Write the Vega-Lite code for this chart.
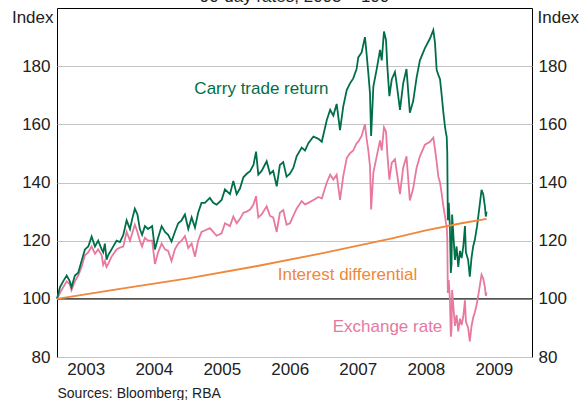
{
  "$schema": "https://vega.github.io/schema/vega-lite/v6.json",
  "width": 475,
  "height": 349,
  "autosize": {"type": "none"},
  "padding": {"left": 57, "top": 8, "right": 55, "bottom": 43},
  "title": {"text": "90-day rates; 2003 = 100", "fontSize": 17, "font": "Liberation Sans", "fontWeight": "normal", "color": "#222", "offset": 1, "dy": 12, "baseline": "alphabetic", "anchor": "middle"},
  "config": {
    "view": {"stroke": "#000", "strokeWidth": 1},
    "font": "Liberation Sans",
    "axis": {"labelFont": "Liberation Sans", "titleFont": "Liberation Sans"},
    "text": {"font": "Liberation Sans"}
  },
  "datasets": {
    "fx": [
      {"d":"2003-01-28","c":100,"e":100},
      {"d":"2003-02-13","c":104,"e":102},
      {"d":"2003-03-02","c":106,"e":104},
      {"d":"2003-03-21","c":108,"e":106},
      {"d":"2003-04-07","c":106,"e":105},
      {"d":"2003-04-16","c":104,"e":103},
      {"d":"2003-05-04","c":108,"e":106},
      {"d":"2003-05-22","c":109,"e":108},
      {"d":"2003-06-09","c":113,"e":111},
      {"d":"2003-06-27","c":117,"e":115},
      {"d":"2003-07-15","c":118,"e":116},
      {"d":"2003-08-02","c":121.4,"e":118},
      {"d":"2003-08-20","c":118,"e":115.5},
      {"d":"2003-09-06","c":120,"e":117},
      {"d":"2003-09-25","c":117,"e":115},
      {"d":"2003-10-03","c":116,"e":111.7},
      {"d":"2003-10-12","c":119,"e":113},
      {"d":"2003-10-21","c":113.5,"e":111},
      {"d":"2003-10-30","c":115,"e":112},
      {"d":"2003-11-17","c":117,"e":114.5},
      {"d":"2003-12-14","c":120,"e":117},
      {"d":"2004-01-01","c":119.5,"e":117.6},
      {"d":"2004-01-19","c":122,"e":118},
      {"d":"2004-02-06","c":127,"e":123},
      {"d":"2004-02-24","c":124,"e":120},
      {"d":"2004-03-09","c":128,"e":123},
      {"d":"2004-03-21","c":131,"e":125.5},
      {"d":"2004-04-04","c":129,"e":123},
      {"d":"2004-04-17","c":124,"e":120},
      {"d":"2004-04-29","c":122,"e":118},
      {"d":"2004-05-14","c":125,"e":121},
      {"d":"2004-05-31","c":124,"e":120},
      {"d":"2004-06-22","c":125,"e":120},
      {"d":"2004-07-07","c":117,"e":112},
      {"d":"2004-07-24","c":121,"e":116},
      {"d":"2004-08-12","c":125,"e":119},
      {"d":"2004-08-30","c":123,"e":117},
      {"d":"2004-09-16","c":122,"e":116.5},
      {"d":"2004-10-04","c":119.7,"e":113},
      {"d":"2004-10-22","c":123,"e":117},
      {"d":"2004-11-09","c":126,"e":119},
      {"d":"2004-11-27","c":127,"e":120},
      {"d":"2004-12-15","c":129,"e":121.6},
      {"d":"2005-01-02","c":124,"e":117.5},
      {"d":"2005-01-20","c":128,"e":119},
      {"d":"2005-02-07","c":124.5,"e":114.5},
      {"d":"2005-02-24","c":129.6,"e":120},
      {"d":"2005-03-14","c":133,"e":123},
      {"d":"2005-04-01","c":133,"e":123.5},
      {"d":"2005-04-28","c":134.7,"e":124.3},
      {"d":"2005-05-16","c":133,"e":123},
      {"d":"2005-06-03","c":132.4,"e":121.7},
      {"d":"2005-06-30","c":134,"e":122.5},
      {"d":"2005-07-18","c":137.6,"e":126},
      {"d":"2005-08-14","c":136,"e":125},
      {"d":"2005-09-01","c":140.5,"e":128.3},
      {"d":"2005-09-19","c":136,"e":126},
      {"d":"2005-10-07","c":138,"e":127.5},
      {"d":"2005-10-25","c":141.8,"e":129.6},
      {"d":"2005-11-12","c":143,"e":130},
      {"d":"2005-11-30","c":143.9,"e":130.7},
      {"d":"2005-12-18","c":146,"e":132.4},
      {"d":"2006-01-01","c":150.6,"e":135.3},
      {"d":"2006-01-13","c":142.7,"e":128},
      {"d":"2006-01-31","c":144,"e":129},
      {"d":"2006-02-27","c":147.3,"e":131.8},
      {"d":"2006-03-17","c":143,"e":128.5},
      {"d":"2006-04-03","c":144,"e":128},
      {"d":"2006-04-22","c":138.7,"e":123},
      {"d":"2006-05-09","c":146,"e":129.6},
      {"d":"2006-05-27","c":147,"e":130.5},
      {"d":"2006-06-14","c":142,"e":125.5},
      {"d":"2006-07-02","c":143,"e":126},
      {"d":"2006-07-20","c":145,"e":128.5},
      {"d":"2006-08-07","c":149,"e":131},
      {"d":"2006-09-03","c":152,"e":133.6},
      {"d":"2006-09-21","c":151,"e":132.5},
      {"d":"2006-10-09","c":153.5,"e":133},
      {"d":"2006-11-05","c":155.8,"e":134},
      {"d":"2006-12-02","c":155,"e":135},
      {"d":"2006-12-20","c":154,"e":134.5},
      {"d":"2007-01-16","c":161.5,"e":140},
      {"d":"2007-02-03","c":165,"e":142.7},
      {"d":"2007-02-20","c":163,"e":141},
      {"d":"2007-03-10","c":167,"e":142.7},
      {"d":"2007-03-28","c":158,"e":134},
      {"d":"2007-04-14","c":166,"e":142},
      {"d":"2007-05-03","c":171.8,"e":148.4},
      {"d":"2007-05-20","c":174,"e":150},
      {"d":"2007-06-07","c":175.8,"e":151},
      {"d":"2007-06-25","c":179,"e":153.5},
      {"d":"2007-07-04","c":183,"e":154},
      {"d":"2007-07-22","c":184.7,"e":156},
      {"d":"2007-08-09","c":190,"e":160},
      {"d":"2007-08-18","c":184,"e":155},
      {"d":"2007-08-27","c":177.6,"e":151},
      {"d":"2007-09-05","c":170.6,"e":145.5},
      {"d":"2007-09-11","c":156,"e":130.7},
      {"d":"2007-09-23","c":173,"e":143.4},
      {"d":"2007-10-11","c":179,"e":149},
      {"d":"2007-10-29","c":185.6,"e":154.5},
      {"d":"2007-11-07","c":182,"e":151},
      {"d":"2007-11-19","c":191.9,"e":159},
      {"d":"2007-11-30","c":189,"e":157.5},
      {"d":"2007-12-07","c":180,"e":150},
      {"d":"2007-12-18","c":169.7,"e":141},
      {"d":"2007-12-31","c":175.5,"e":146.8},
      {"d":"2008-01-17","c":178,"e":148},
      {"d":"2008-01-26","c":174,"e":144},
      {"d":"2008-02-13","c":165,"e":136},
      {"d":"2008-03-01","c":174,"e":145},
      {"d":"2008-03-19","c":179,"e":149},
      {"d":"2008-04-06","c":164,"e":133.8},
      {"d":"2008-04-24","c":168,"e":138},
      {"d":"2008-05-12","c":176,"e":145},
      {"d":"2008-05-30","c":182,"e":149},
      {"d":"2008-06-26","c":186.2,"e":153},
      {"d":"2008-07-23","c":189.5,"e":154},
      {"d":"2008-08-10","c":192.4,"e":155.4},
      {"d":"2008-08-19","c":188,"e":151.5},
      {"d":"2008-08-28","c":178.7,"e":147},
      {"d":"2008-09-06","c":177,"e":142},
      {"d":"2008-09-15","c":175.5,"e":140},
      {"d":"2008-09-24","c":170,"e":136.2},
      {"d":"2008-10-03","c":164,"e":131.8},
      {"d":"2008-10-12","c":159,"e":128.3},
      {"d":"2008-10-17","c":157,"e":126},
      {"d":"2008-10-21","c":155.7,"e":125},
      {"d":"2008-10-24","c":150,"e":120.5},
      {"d":"2008-10-27","c":127,"e":102},
      {"d":"2008-11-01","c":133,"e":106.5},
      {"d":"2008-11-07","c":125,"e":100},
      {"d":"2008-11-12","c":108.9,"e":87},
      {"d":"2008-11-16","c":112,"e":89.5},
      {"d":"2008-11-19","c":129,"e":103},
      {"d":"2008-11-25","c":122.7,"e":98},
      {"d":"2008-12-04","c":113.4,"e":90.7},
      {"d":"2008-12-13","c":118,"e":94.4},
      {"d":"2008-12-22","c":111,"e":88.8},
      {"d":"2008-12-31","c":116.5,"e":93.2},
      {"d":"2009-01-09","c":114,"e":91},
      {"d":"2009-01-18","c":118,"e":94},
      {"d":"2009-01-27","c":125,"e":99.5},
      {"d":"2009-02-01","c":116,"e":92.3},
      {"d":"2009-02-13","c":113.4,"e":90},
      {"d":"2009-02-22","c":107.6,"e":85.4},
      {"d":"2009-03-03","c":114,"e":90.5},
      {"d":"2009-03-12","c":118,"e":93.5},
      {"d":"2009-03-21","c":120.3,"e":95.3},
      {"d":"2009-04-02","c":125,"e":98.7},
      {"d":"2009-04-13","c":130.7,"e":103},
      {"d":"2009-04-26","c":137.5,"e":108.3},
      {"d":"2009-05-05","c":136,"e":107},
      {"d":"2009-05-14","c":131.8,"e":104},
      {"d":"2009-05-19","c":128.3,"e":101},
      {"d":"2009-05-23","c":130,"e":102.2}
    ],
    "diff": [
      {"d":"2003-01-28","v":100},
      {"d":"2004-01-01","v":103.4},
      {"d":"2005-01-01","v":107.0},
      {"d":"2006-01-01","v":111.2},
      {"d":"2007-01-01","v":115.8},
      {"d":"2008-01-01","v":120.8},
      {"d":"2008-07-01","v":123.5},
      {"d":"2009-01-01","v":125.9},
      {"d":"2009-05-23","v":127.5}
    ],
    "notes": [
      {"d":"2006-01-30","v":172.2,"t":"Carry trade return"},
      {"d":"2007-05-07","v":108.2,"t":"Interest differential"},
      {"d":"2007-12-08","v":90.3,"t":"Exchange rate"}
    ]
  },
  "layer": [
    {
      "data": {"values": [{}]},
      "mark": {"type": "rule", "color": "#000", "strokeWidth": 1},
      "encoding": {"y": {"datum": 100, "type": "quantitative", "axis": null}}
    },
    {
      "data": {"name": "fx"},
      "mark": {"type": "line", "color": "#e8789f", "strokeWidth": 1.8},
      "encoding": {
        "x": {
          "field": "d", "type": "temporal",
          "scale": {"type": "utc", "domain": [{"year":2003,"month":1,"date":28,"utc":true},{"year":2010,"month":1,"date":22,"utc":true}]},
          "axis": {
            "values": [
              {"year":2004,"month":1,"date":1,"utc":true},
              {"year":2005,"month":1,"date":1,"utc":true},
              {"year":2006,"month":1,"date":1,"utc":true},
              {"year":2007,"month":1,"date":1,"utc":true},
              {"year":2008,"month":1,"date":1,"utc":true},
              {"year":2009,"month":1,"date":1,"utc":true},
              {"year":2003,"month":7,"date":1,"utc":true},
              {"year":2004,"month":7,"date":1,"utc":true},
              {"year":2005,"month":7,"date":1,"utc":true},
              {"year":2006,"month":7,"date":1,"utc":true},
              {"year":2007,"month":7,"date":1,"utc":true},
              {"year":2008,"month":7,"date":1,"utc":true},
              {"year":2009,"month":7,"date":1,"utc":true}
            ],
            "labelExpr": "utcmonth(datum.value) == 6 ? utcFormat(datum.value, '%Y') : ''",
            "tickOpacity": {"condition": {"test": "utcmonth(datum.value) == 6", "value": 0}, "value": 1},
            "tickSize": -5,
            "tickColor": "#000",
            "domain": false,
            "grid": false,
            "labelOverlap": false,
            "labelFlush": false,
            "labelFontSize": 17,
            "labelColor": "#222",
            "labelPadding": 9,
            "title": "Sources: Bloomberg; RBA",
            "titleFontSize": 14,
            "titleFontWeight": "normal",
            "titleColor": "#222",
            "titleAnchor": "start",
            "titleAlign": "left",
            "titleBaseline": "alphabetic",
            "titleX": 0,
            "titleY": 40
          }
        },
        "y": {
          "field": "e", "type": "quantitative",
          "scale": {"domain": [80, 200], "nice": false, "zero": false},
          "axis": {
            "orient": "left",
            "values": [80, 100, 120, 140, 160, 180],
            "domain": false,
            "ticks": false,
            "labelPadding": 7,
            "labelFontSize": 17,
            "labelColor": "#222",
            "grid": true,
            "gridColor": "#c4c4c4",
            "gridWidth": 1,
            "title": "Index",
            "titleAngle": 0,
            "titleAlign": "right",
            "titleBaseline": "alphabetic",
            "titleX": -4,
            "titleY": 14,
            "titleFontSize": 17,
            "titleFontWeight": "normal",
            "titleColor": "#222"
          }
        }
      }
    },
    {
      "data": {"name": "fx"},
      "mark": {"type": "line", "color": "#006f48", "strokeWidth": 1.8},
      "encoding": {
        "x": {"field": "d", "type": "temporal"},
        "y": {
          "field": "c", "type": "quantitative",
          "axis": {
            "orient": "right",
            "values": [80, 100, 120, 140, 160, 180],
            "domain": false,
            "ticks": false,
            "grid": false,
            "labelPadding": 6,
            "labelFontSize": 17,
            "labelColor": "#222",
            "title": "Index",
            "titleAngle": 0,
            "titleAlign": "left",
            "titleBaseline": "alphabetic",
            "titleX": 5,
            "titleY": 14,
            "titleFontSize": 17,
            "titleFontWeight": "normal",
            "titleColor": "#222"
          }
        }
      }
    },
    {
      "data": {"name": "diff"},
      "mark": {"type": "line", "color": "#f0873a", "strokeWidth": 1.8},
      "encoding": {
        "x": {"field": "d", "type": "temporal"},
        "y": {"field": "v", "type": "quantitative", "axis": null}
      }
    },
    {
      "data": {"name": "notes"},
      "mark": {"type": "text", "fontSize": 17, "align": "center", "baseline": "middle"},
      "encoding": {
        "x": {"field": "d", "type": "temporal"},
        "y": {"field": "v", "type": "quantitative", "axis": null},
        "text": {"field": "t"},
        "color": {
          "field": "t", "type": "nominal",
          "scale": {"domain": ["Carry trade return", "Interest differential", "Exchange rate"], "range": ["#006f48", "#f0873a", "#e8789f"]},
          "legend": null
        }
      }
    }
  ],
  "resolve": {"axis": {"y": "independent"}}
}
